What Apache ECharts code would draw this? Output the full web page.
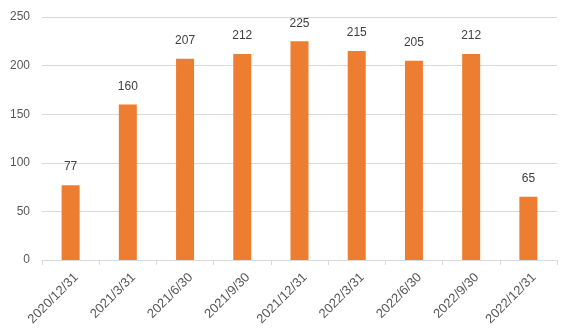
<!DOCTYPE html>
<html><head><meta charset="utf-8">
<script src="https://cdn.jsdelivr.net/npm/echarts@6/dist/echarts.min.js"></script>
<style>html,body{margin:0;padding:0;background:#fff;}#c{width:565px;height:335px;}</style>
</head><body><div id="c"></div>
<script>
const categories = ['2020/12/31','2021/3/31','2021/6/30','2021/9/30','2021/12/31','2022/3/31','2022/6/30','2022/9/30','2022/12/31'];
const values = [77,160,207,212,225,215,205,212,65];
const yTicks = {min:0,max:250,interval:50};
const chart = echarts.init(document.getElementById('c'));
chart.setOption({
  animation:false,
  grid:{left:42,right:8,top:17,bottom:75},
  xAxis:{type:'category',data:categories,
    axisLine:{lineStyle:{color:'#d9d9d9'}},
    axisTick:{show:true,length:5,lineStyle:{color:'#d9d9d9'}},
    axisLabel:{rotate:45,color:'#595959',fontSize:13,fontFamily:'Liberation Sans, Arial',margin:21,padding:[0,-8,0,0],interval:0}},
  yAxis:{type:'value',min:yTicks.min,max:yTicks.max,interval:yTicks.interval,
    axisLine:{show:false},axisTick:{show:false},
    splitLine:{lineStyle:{color:'#d9d9d9'}},
    axisLabel:{color:'#595959',fontSize:12,fontFamily:'Liberation Sans, Arial',margin:12}},
  series:[{type:'bar',data:values,barWidth:18,
    itemStyle:{color:'#ED7D31'},
    label:{show:true,position:'top',distance:12,color:'#404040',fontSize:12,fontFamily:'Liberation Sans, Arial'}}]
});
</script></body></html>
